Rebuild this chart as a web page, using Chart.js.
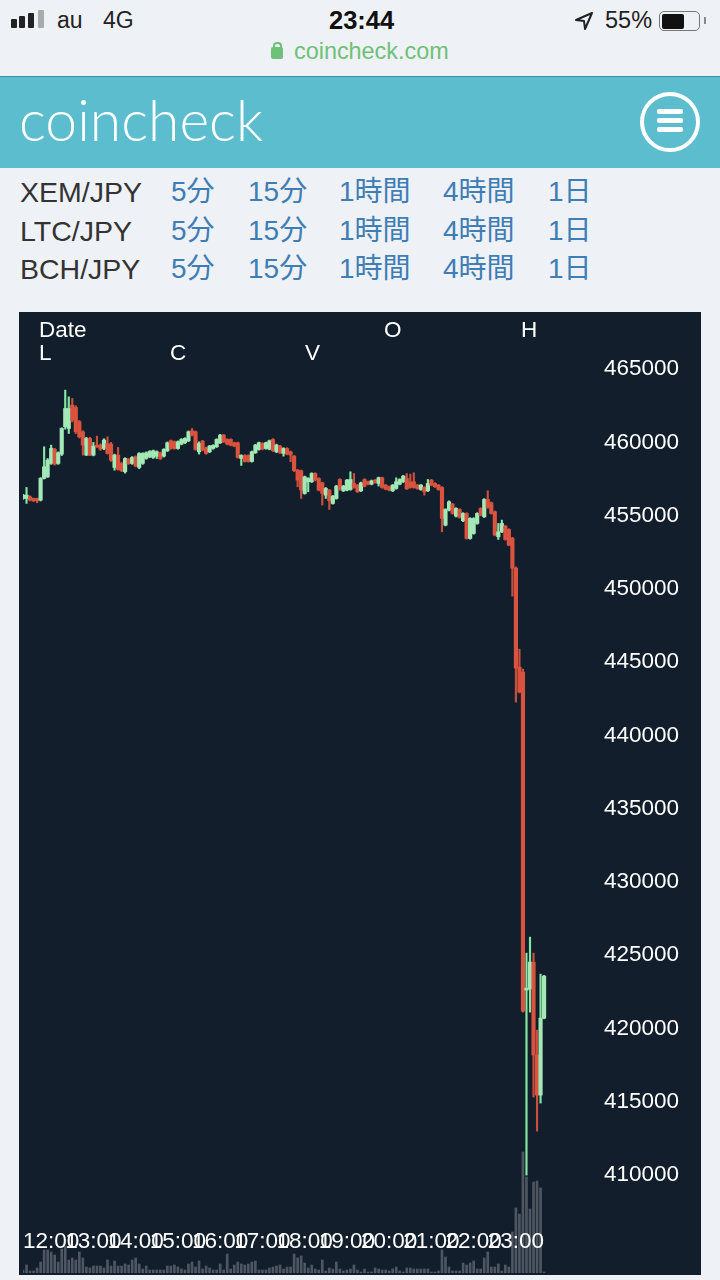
<!DOCTYPE html>
<html>
<head>
<meta charset="utf-8">
<script src="https://cdn.jsdelivr.net/npm/chart.js@4"></script>
<style>
  html, body { margin: 0; padding: 0; }
  body { width: 720px; height: 1280px; position: relative; overflow: hidden; background: #eef1f6; font-family: "Liberation Sans", "Noto Sans CJK JP", sans-serif; color: #222; }
  .abs { position: absolute; white-space: nowrap; }
  #header { position: absolute; left: 0; top: 76px; width: 720px; height: 92px; background: #5bbdce; border-top: 1px solid #3d8fa3; box-sizing: border-box; }
  #logo { left: 19px; top: 85px; font: 300 57px Lato, sans-serif; color: #fff; }
  #menu { position: absolute; left: 640px; top: 92px; width: 60px; height: 60px; box-sizing: border-box; border: 4px solid #fff; border-radius: 50%; }
  #menu i { position: absolute; left: 13px; width: 26px; height: 5px; background: #fff; border-radius: 2px; }
  .row { font-size: 28.5px; line-height: 38px; color: #333; left: 20px; }
  .lnk { font-size: 28px; line-height: 38px; color: #3f7db5; }
  #panel { position: absolute; left: 19px; top: 312px; width: 682px; height: 963px; background: #121e2c; }
  canvas { position: absolute; left: 0; top: 0; }
  .leg { font-size: 22.5px; color: #fff; }
</style>
</head>
<body>
<div class="abs" style="left:11px;top:19px;width:6px;height:9px;background:#222;border-radius:1px"></div>
<div class="abs" style="left:19px;top:16px;width:6px;height:12px;background:#222;border-radius:1px"></div>
<div class="abs" style="left:28px;top:13px;width:6px;height:15px;background:#222;border-radius:1px"></div>
<div class="abs" style="left:38px;top:10px;width:6px;height:18px;background:#aaa;border-radius:1px"></div>
<div class="abs" style="left:57px;top:7px;font-size:23px">au</div>
<div class="abs" style="left:103px;top:7px;font-size:23px">4G</div>
<div class="abs" style="left:329px;top:6px;font-size:25.5px;font-weight:bold;color:#111">23:44</div>
<svg class="abs" style="left:574px;top:11px" width="20" height="20" viewBox="0 0 20 20"><path d="M18 2 L2 9 L10 10 L11 18 Z" fill="none" stroke="#222" stroke-width="2" stroke-linejoin="round"/></svg>
<div class="abs" style="left:605px;top:7px;font-size:23.5px">55%</div>
<div class="abs" style="left:659px;top:11px;width:39px;height:18px;border:1.5px solid #777;border-radius:5px"></div>
<div class="abs" style="left:662px;top:14px;width:22px;height:15px;background:#111;border-radius:2px"></div>
<div class="abs" style="left:704px;top:17px;width:2px;height:7px;background:#888"></div>
<div class="abs" style="left:271px;top:47px;width:12px;height:12px;background:#6fc177;border-radius:2px"></div>
<div class="abs" style="left:273px;top:42px;width:5px;height:6px;border:2px solid #6fc177;border-bottom:0;border-radius:4px 4px 0 0"></div>
<div class="abs" style="left:294px;top:38px;font-size:23.4px;color:#6fc177">coincheck.com</div>

<div id="header"></div>
<div id="logo" class="abs">coincheck</div>
<div id="menu"><i style="top:13px"></i><i style="top:22px"></i><i style="top:31px"></i></div>

<div id="links"></div>

<div id="panel">
  <canvas id="chart" width="682" height="963"></canvas>
  <div class="abs leg" style="left:20px;top:5px">Date</div>
  <div class="abs leg" style="left:20px;top:28px">L</div>
  <div class="abs leg" style="left:151px;top:28px">C</div>
  <div class="abs leg" style="left:286px;top:28px">V</div>
  <div class="abs leg" style="left:365px;top:5px">O</div>
  <div class="abs leg" style="left:502px;top:5px">H</div>
</div>

<script>
const opens = [
  456170,456170,456286,456173,456150,456059,457538,457650,458562,459517,
  458562,459199,461064,460950,462543,462383,461405,460723,459130,460268,
  459130,459813,459813,459585,459927,459881,458289,459130,458562,457993,
  458835,458562,459017,458289,458562,458903,459017,458971,459060,459290,
  459060,459426,460108,460040,459585,459881,459972,460108,460791,460723,
  459358,460086,459631,459358,459585,459699,459972,460495,460200,460200,
  459972,459972,458903,459107,459107,458698,459290,459517,459927,459585,
  459540,460199,459357,459744,459243,459585,459357,459061,458106,458060,
  456513,457310,457310,457878,457537,457241,456400,456741,455831,456172,
  457469,456695,456741,456786,457196,457082,456695,457469,457310,457150,
  457423,457196,457583,457082,456968,456695,456855,457150,457310,457537,
  457310,457310,457082,456786,456923,456695,457423,457196,457082,456923,
  454352,455376,455786,454966,455422,454648,455149,453442,453784,454466,
  455490,454921,456104,455876,455262,453556,453897,454284,454056,453460,
  451416,444659,444317,422611,422679,424522,418174,415443,420699
];
const closes = [
  456400,456400,456059,456013,456013,457538,458334,458789,459585,458516,
  459290,460950,462315,462315,461519,460723,460382,459813,460268,459130,
  459745,459700,459540,460154,459244,458789,459130,458152,458061,458903,
  458562,458971,458380,459244,459244,459290,459380,459426,459358,458880,
  459517,459972,459585,459585,460040,460200,460268,460723,460495,459517,
  459927,459472,459244,459745,459790,460200,460495,460040,459881,459813,
  459745,458971,459107,458698,458698,459358,459813,459972,459540,459972,
  460108,459425,459812,459289,459585,459198,459130,458060,457423,456741,
  457651,457537,457878,457423,456741,456513,456855,456013,456331,457014,
  456786,457014,457423,457469,456923,456627,457241,457014,457150,457378,
  457264,457583,456923,456809,456741,457082,457310,457469,457696,456832,
  456923,456923,456855,457082,456627,457196,457082,456968,456786,454807,
  455422,455945,455149,455490,454876,455149,453442,454807,454807,455149,
  455035,456104,455558,455149,453670,453897,454466,453374,452987,451416,
  444590,442952,421177,422747,424522,418174,415443,420699,423566
];
const highs = [
  456450,456924,456350,456200,456200,457600,459699,458900,459813,459600,
  459350,461000,463567,463111,462998,462500,461500,460800,460350,460350,
  460000,460427,459900,460250,460382,460000,459200,459654,458650,458950,
  458900,459030,459080,459300,459300,459350,459440,459480,459420,459340,
  459570,460030,460160,460100,460100,460260,460320,460780,460950,460780,
  460040,460140,459680,459800,459840,460250,460550,460550,460250,460250,
  460020,460020,459160,459160,459160,459410,459870,460020,459980,460020,
  460160,460260,459880,459800,459640,459640,459410,459110,458160,458110,
  457700,457590,457930,457930,457590,457290,456923,456790,456380,457070,
  457520,457070,457470,457992,457878,457130,457290,457520,457360,457430,
  457470,457630,457630,457130,457020,457130,457583,457520,457750,457878,
  457833,457924,457130,457130,456980,457469,457470,457250,457130,456980,
  455470,456013,455840,455540,455470,455200,455200,454860,454860,455200,
  455540,456160,456695,455930,455320,454466,454694,454340,454110,453520,
  451500,445887,444522,425136,426228,425136,419880,423703,423620
];
const lows = [
  456100,455832,456000,455950,455880,456000,457500,457600,458500,458450,
  458500,459100,460900,460609,461400,460600,460300,459130,459100,459100,
  459080,459650,459450,459500,459200,458700,458100,458100,458000,457900,
  458500,458500,458330,458200,458500,458850,458960,458900,458900,458830,
  459000,459370,459530,459530,459530,459830,459920,460050,460440,459460,
  459200,459420,459190,459300,459530,459650,459920,459990,459830,459760,
  459700,458920,458425,458650,458650,458650,459240,459470,459490,459530,
  459490,459370,459290,459240,459062,459150,458675,458010,456968,456172,
  456460,456627,457260,457370,456690,455717,456172,455422,455780,456120,
  456730,456640,456690,456730,456870,456580,456640,456960,457100,457100,
  457210,457014,456870,456760,456690,456640,456800,457100,457260,456780,
  456870,456870,456800,456730,456400,456640,457030,456920,456730,453897,
  454300,455320,455100,454910,454830,454590,453400,453390,453730,454410,
  454980,454870,455500,455100,453620,453374,453840,453320,452940,449505,
  442270,442900,421100,409982,421109,415307,412986,414897,420650
];
const volumes = [
  3,8,2,2,5,11,23,23,21,18,
  11,24,27,13,15,13,21,15,6,5,
  7,7,7,5,13,7,12,7,7,9,
  8,13,15,9,4,7,3,3,3,3,
  3,7,7,8,6,4,3,9,11,6,
  12,4,7,5,3,3,9,3,19,4,
  8,11,9,8,9,11,12,3,3,3,
  5,6,7,8,4,6,6,19,15,17,
  10,5,8,4,3,13,2,5,4,11,
  4,2,3,4,8,3,1,4,1,1,
  5,4,3,3,2,4,6,2,1,5,
  5,4,4,4,4,4,1,1,2,23,
  16,6,2,2,2,10,8,10,12,4,
  4,15,21,6,6,9,2,8,6,41,
  65,59,121,96,64,91,92,85,1
];
const yTicks = [465000,460000,455000,450000,445000,440000,435000,430000,425000,420000,415000,410000];
const hourLabels = ['12:00','13:00','14:00','15:00','16:00','17:00','18:00','19:00','20:00','21:00','22:00','23:00'];
const pairs = ['XEM/JPY', 'LTC/JPY', 'BCH/JPY'];
const pairTops = [173, 212, 250];
const periods = ['5分', '15分', '1時間', '4時間', '1日'];
const periodLefts = [171, 248, 339, 443, 548];

const GREEN = '#a3e8b6';
const GREEN_WICK = '#84e6a2';
const RED = '#d9533e';
const RED_WICK = '#c94f3c';

// 足の時刻ラベル (5分足、右側は空き)
const times = [];
for (let i = 0; i < 193; i++) {
  const m = 11 * 60 + 20 + i * 5;
  times.push(String(Math.floor(m / 60) % 24).padStart(2, '0') + ':' + String(m % 60).padStart(2, '0'));
}

const links = document.getElementById('links');
pairs.forEach((name, r) => {
  const p = document.createElement('div');
  p.className = 'abs row';
  p.style.top = pairTops[r] + 'px';
  p.textContent = name;
  links.appendChild(p);
  periods.forEach((label, i) => {
    const a = document.createElement('div');
    a.className = 'abs lnk';
    a.style.left = periodLefts[i] + 'px';
    a.style.top = pairTops[r] + 'px';
    a.textContent = label;
    links.appendChild(a);
  });
});

const isUp = opens.map((o, i) => closes[i] >= o);

// 軸の領域を潰して目盛をチャートの中に重ねる
function flatten(axis) {
  if (axis.isHorizontal()) axis.height = 0; else axis.width = 0;
  axis.paddingTop = axis.paddingBottom = axis.paddingLeft = axis.paddingRight = 0;
}

new Chart(document.getElementById('chart').getContext('2d'), {
  type: 'bar',
  data: {
    labels: times,
    datasets: [
      {
        label: 'body',
        data: opens.map((o, i) => [o, closes[i]]),
        backgroundColor: isUp.map(u => u ? GREEN : RED),
        barThickness: 3.5,
        order: 1
      },
      {
        label: 'wick',
        data: lows.map((l, i) => [l, highs[i]]),
        backgroundColor: isUp.map(u => u ? GREEN_WICK : RED_WICK),
        barThickness: 1.5,
        order: 2
      },
      {
        label: 'volume',
        data: volumes,
        yAxisID: 'y2',
        backgroundColor: 'rgba(255,255,255,0.25)',
        barThickness: 2,
        order: 3
      }
    ]
  },
  options: {
    responsive: false,
    animation: false,
    events: [],
    layout: { padding: { left: 4, right: 2, top: 0, bottom: 2 } },
    datasets: { bar: { grouped: false } },
    plugins: { legend: { display: false }, tooltip: { enabled: false } },
    scales: {
      x: {
        offset: false,
        grid: { display: false, drawTicks: false },
        border: { display: false },
        afterFit: flatten,
        ticks: {
          autoSkip: false,
          maxRotation: 0,
          minRotation: 0,
          mirror: true,
          padding: 18,
          z: 1,
          color: '#fff',
          font: { family: 'Liberation Sans', size: 22.5 },
          callback(value) {
            const l = this.getLabelForValue(value);
            return hourLabels.includes(l) ? l : null;
          }
        }
      },
      y: {
        position: 'right',
        min: 403300,
        max: 468900,
        grid: { display: false, drawTicks: false },
        border: { display: false },
        afterFit: flatten,
        afterBuildTicks(axis) { axis.ticks = yTicks.map(v => ({ value: v })); },
        ticks: {
          mirror: true,
          padding: -20,
          color: '#fff',
          font: { family: 'Liberation Sans', size: 22.5 },
          callback: v => String(v)
        }
      },
      y2: { display: false, min: 0, max: 961 }
    }
  }
});
</script>
</body>
</html>
